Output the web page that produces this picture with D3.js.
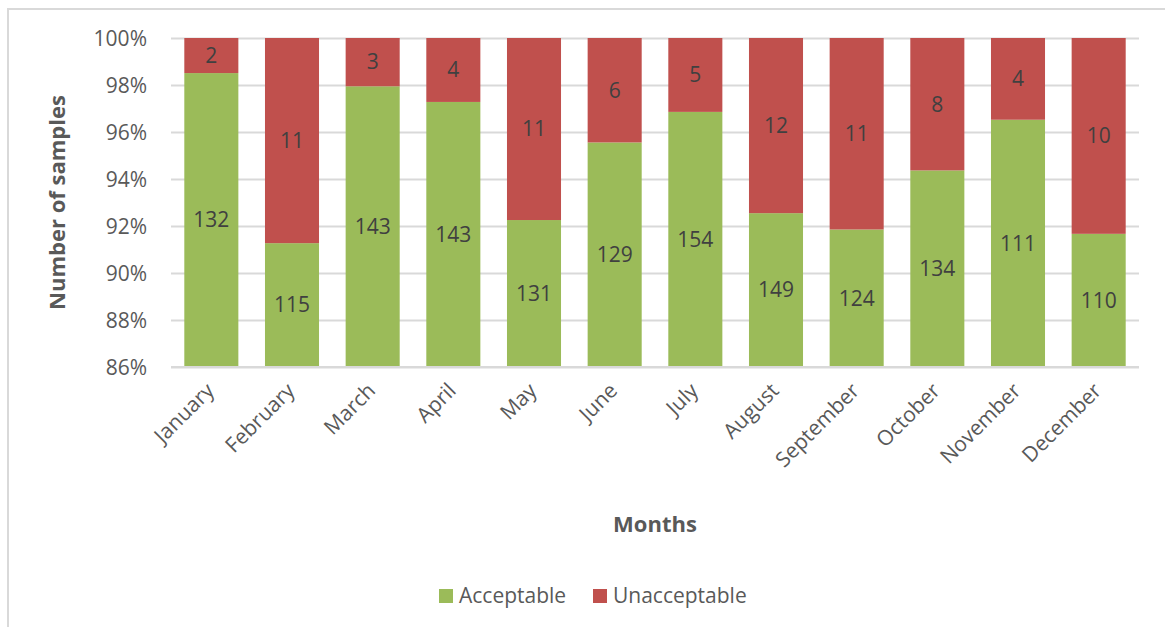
<!DOCTYPE html>
<html>
<head>
<meta charset="utf-8">
<script src="https://cdn.jsdelivr.net/npm/d3@7"></script>
<style>
  html, body { margin: 0; padding: 0; background: #fff; }
  svg { display: block; font-family: "Open Sans", "Noto Sans", sans-serif; }
</style>
</head>
<body>
<svg id="chart" width="1165" height="627"></svg>
<script>
// Monthly sample counts
const months = ["January", "February", "March", "April", "May", "June",
                "July", "August", "September", "October", "November", "December"];
const acceptable   = [132, 115, 143, 143, 131, 129, 154, 149, 124, 134, 111, 110];
const unacceptable = [2, 11, 3, 4, 11, 6, 5, 12, 11, 8, 4, 10];
const yTicks = [0.86, 0.88, 0.90, 0.92, 0.94, 0.96, 0.98, 1.00];
const seriesNames = ["Acceptable", "Unacceptable"];
const seriesColors = ["#9bbb59", "#c0504d"];

const svg = d3.select("#chart");
const W = 1165, H = 627;
const plot = { left: 171, right: 1139, top: 38, bottom: 367 };
const FS = 21, FS_TITLE = 22;

svg.append("rect").attr("width", W).attr("height", H).attr("fill", "#fff");
// outer chart frame
svg.append("rect")
  .attr("x", 8).attr("y", 9).attr("width", 1300).attr("height", 800)
  .attr("fill", "none").attr("stroke", "#d9d9d9").attr("stroke-width", 2);

const x = d3.scaleBand().domain(months).range([plot.left, plot.right]).paddingInner(0.33).paddingOuter(0.165);
const y = d3.scaleLinear().domain([0.86, 1.0]).range([plot.bottom, plot.top]);

// stacked shares per month
const rows = months.map((m, i) => {
  const total = acceptable[i] + unacceptable[i];
  return { month: m, Acceptable: acceptable[i] / total, Unacceptable: unacceptable[i] / total,
           counts: { Acceptable: acceptable[i], Unacceptable: unacceptable[i] } };
});
const stack = d3.stack().keys(seriesNames)(rows);

// gridlines
const yAxis = d3.axisLeft(y).tickValues(yTicks).tickFormat(d3.format(".0%")).tickSize(0).tickPadding(0);
const gy = svg.append("g").attr("transform", `translate(${plot.left},0)`).call(yAxis);
gy.select(".domain").remove();
gy.selectAll("text").attr("x", -24).attr("font-size", FS).attr("fill", "#595959")
  .attr("font-family", "'Open Sans', sans-serif").attr("dy", "0.35em");
gy.selectAll(".tick line").attr("x1", 0).attr("x2", plot.right - plot.left)
  .attr("stroke", "#d9d9d9").attr("stroke-width", 2);

// bars
const clampY = v => y(Math.max(0.86, Math.min(1, v)));
stack.forEach((layer, si) => {
  const g = svg.append("g").attr("fill", seriesColors[si]);
  g.selectAll("rect").data(layer).join("rect")
    .attr("x", d => x(d.data.month))
    .attr("width", x.bandwidth())
    .attr("y", d => clampY(d[1]))
    .attr("height", d => clampY(d[0]) - clampY(d[1]));
  svg.append("g").selectAll("text").data(layer).join("text")
    .attr("x", d => x(d.data.month) + x.bandwidth() / 2)
    .attr("y", d => (clampY(d[0]) + clampY(d[1])) / 2)
    .attr("dy", "0.35em")
    .attr("text-anchor", "middle")
    .attr("font-size", FS)
    .attr("fill", "#404040")
    .text(d => d.data.counts[layer.key]);
});

// x axis
const xAxis = d3.axisBottom(x).tickSize(0).tickPadding(0);
const gx = svg.append("g").attr("transform", `translate(0,${plot.bottom})`).call(xAxis);
gx.select(".domain").attr("d", `M${plot.left},0H${plot.right}`).attr("stroke", "#d9d9d9").attr("stroke-width", 2);
gx.selectAll("text")
  .attr("font-size", FS).attr("fill", "#595959").attr("font-family", "'Open Sans', sans-serif")
  .attr("text-anchor", "end").attr("dy", null).attr("y", 0)
  .attr("transform", "translate(4,25) rotate(-45)");

// axis titles
svg.append("text")
  .attr("transform", `translate(65,${(plot.top + plot.bottom) / 2}) rotate(-90)`)
  .attr("text-anchor", "middle").attr("font-size", FS_TITLE).attr("font-weight", "bold").attr("fill", "#595959")
  .text("Number of samples");
svg.append("text")
  .attr("x", (plot.left + plot.right) / 2).attr("y", 532)
  .attr("text-anchor", "middle").attr("font-size", FS_TITLE).attr("font-weight", "bold").attr("fill", "#595959")
  .text("Months");

// legend
const legendX = [439, 593];
seriesNames.forEach((name, i) => {
  svg.append("rect").attr("x", legendX[i]).attr("y", 589).attr("width", 14).attr("height", 14).attr("fill", seriesColors[i]);
  svg.append("text").attr("x", legendX[i] + 20).attr("y", 603).attr("font-size", FS).attr("fill", "#595959").text(name);
});
</script>
</body>
</html>
